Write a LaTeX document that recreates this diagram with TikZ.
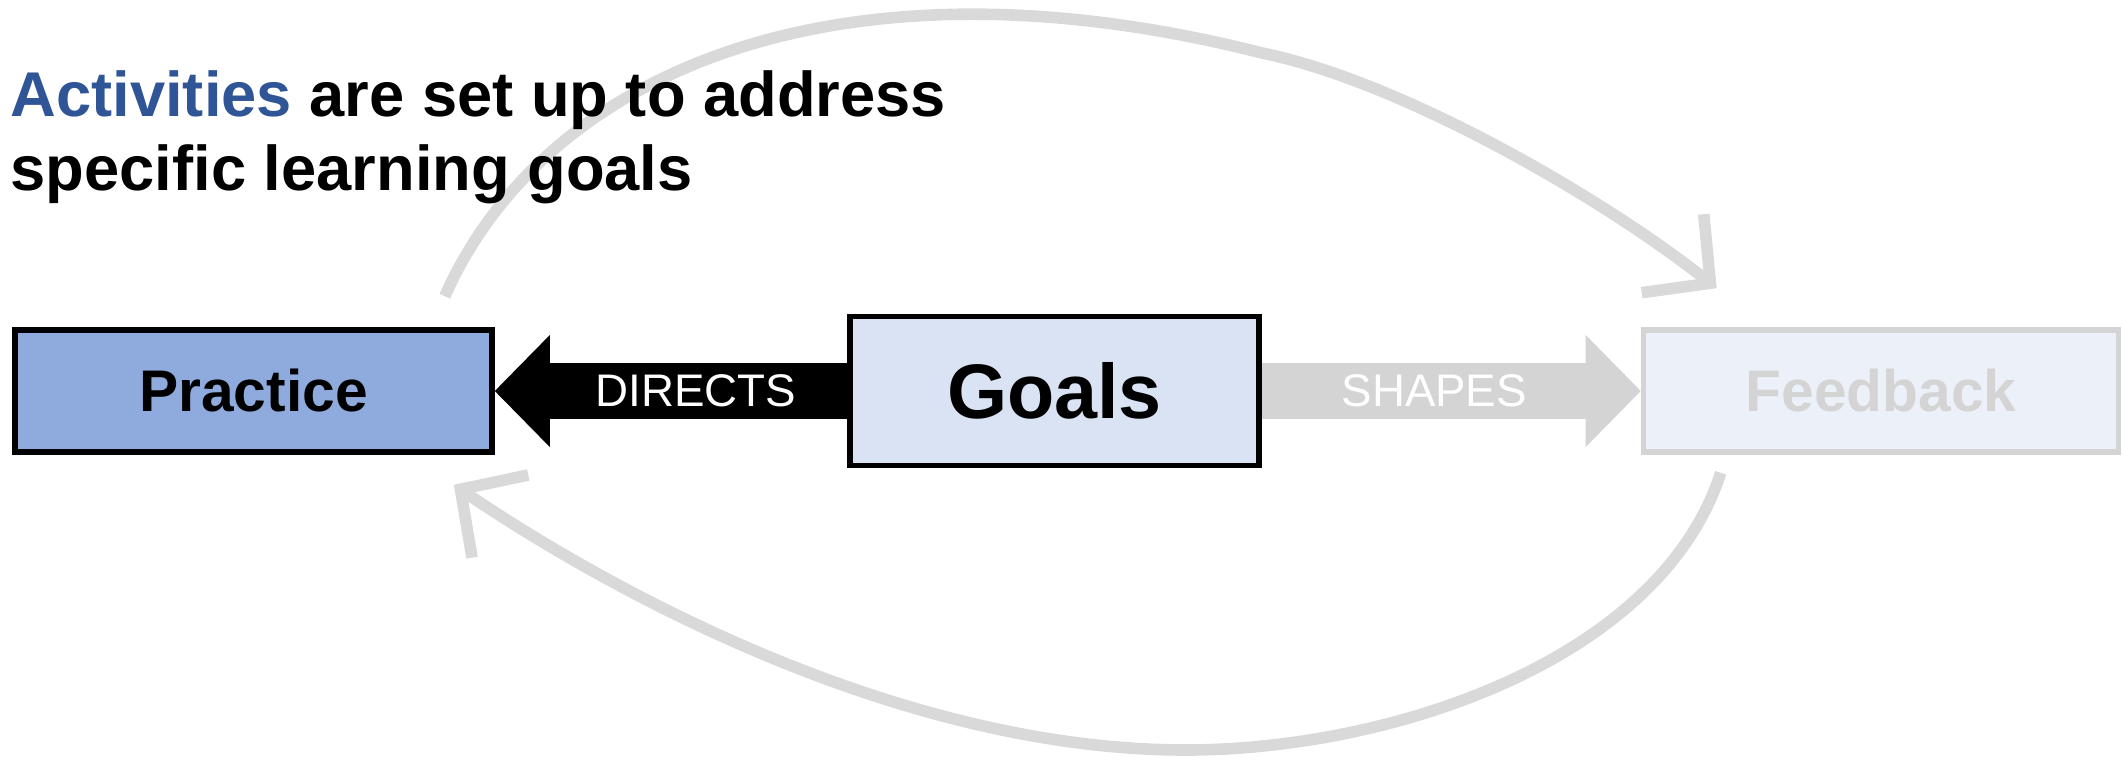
\documentclass[tikz,border=0pt]{standalone}
\usepackage{fontspec}
\setmainfont{Liberation Sans}
\usetikzlibrary{positioning,arrows.meta}
\definecolor{practiceblue}{HTML}{8FAADC}
\definecolor{goalsblue}{HTML}{DAE3F3}
\definecolor{feedbackblue}{HTML}{ECF1F9}
\definecolor{fadegray}{HTML}{D4D4D4}
\definecolor{loopgray}{HTML}{D9D9D9}
\definecolor{activityblue}{HTML}{2F5597}

\begin{document}
\begin{tikzpicture}[node distance=8.01cm]
  \tikzstyle{box} = [rectangle, draw, line width=1.6pt, minimum width=4.77cm,
  minimum height=1.22cm, inner sep=0pt, font=\bfseries\fontsize{16.7}{20}\selectfont]
  \tikzstyle{flow} = [line width=0.56cm, -{Triangle[length=0.55cm,width=1.12cm,line width=0pt]}]
  \tikzstyle{flowlabel} = [text=white, inner sep=0pt, font=\fontsize{13}{15}\selectfont]
  \tikzstyle{loopback} = [draw=loopgray, line width=3.3pt,
  -{Straight Barb[length=4.8mm,width=10mm,sharp]}]
  \tikzstyle{headline} = [anchor=base west, inner sep=0pt,
  font=\bfseries\fontsize{18}{21.6}\selectfont]

  \useasboundingbox (0,0) rectangle (21.23,7.61);

  % Define nodes
  \node[box, fill=practiceblue] (practice) at (2.535,3.70) {Practice};
  \node[box, fill=goalsblue, right of=practice, minimum width=4.09cm,
  minimum height=1.49cm, font=\bfseries\fontsize{22}{26}\selectfont] (goals) {Goals};
  \node[box, draw=fadegray, fill=feedbackblue, text=fadegray, right of=goals,
  xshift=.255cm, minimum width=4.75cm] (feedback) {Feedback};

  % Loop ends
  \coordinate (topstart) at ([shift={(-0.5,0.31)}]practice.north east);
  \coordinate (topjoin) at (12.62,7.08);
  \coordinate (topend) at ([shift={(0.76,0.39)}]feedback.north west);
  \coordinate (botstart) at ([shift={(0.80,-0.18)}]feedback.south west);
  \coordinate (botjoin) at (11.86,0.11);
  \coordinate (botend) at ([shift={(-0.41,-0.30)}]practice.south east);

  \draw[loopback] (topstart) .. controls (5.45,6.9) and (8.4,8.15) .. (topjoin)
    .. controls (14.0,6.8) and (16.0,5.65) .. (topend);
  \draw[loopback] (botstart) .. controls (16.6,1.0) and (13.9,0.11) .. (botjoin)
    .. controls (9.0,0.11) and (6.1,1.7) .. (botend);

  \path
    (goals.west) edge [flow] node [flowlabel, pos=.43] {DIRECTS} (practice.east)
    (goals.east) edge [flow, draw=fadegray] node [flowlabel, pos=.455] {SHAPES} (feedback.west);

  % Headline
  \node[headline] (line1) at (0.10,6.45) {\textcolor{activityblue}{Activities} are set up to address};
  \node[headline] (line2) at (0.10,5.71) {specific learning goals};
\end{tikzpicture}
\end{document}
